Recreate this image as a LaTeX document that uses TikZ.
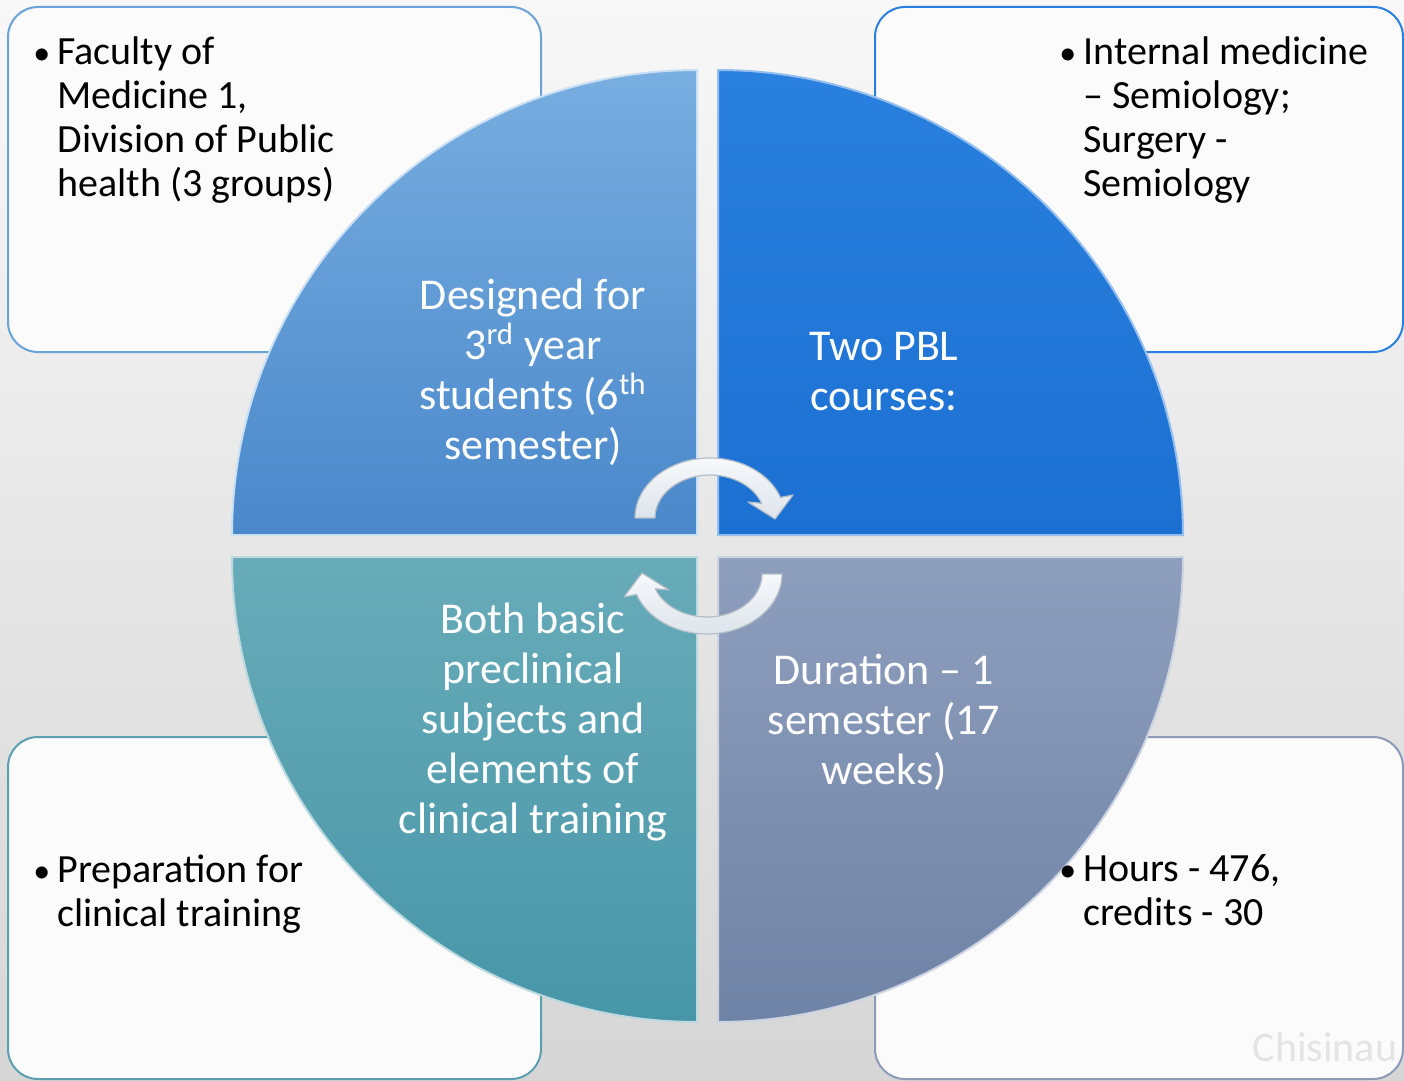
\documentclass[tikz,border=0pt]{standalone}
\usepackage{fontspec}
\setmainfont{Carlito}
\definecolor{bgtop}{HTML}{F8F8F8}
\definecolor{bgbot}{HTML}{D6D6D6}
\definecolor{boxfill}{HTML}{FBFBFC}
\definecolor{tlline}{HTML}{6AA3D8}
\definecolor{trline}{HTML}{2B7FDE}
\definecolor{blline}{HTML}{5C9FAE}
\definecolor{brline}{HTML}{8B9BB8}
\definecolor{tltop}{HTML}{78AEE0}
\definecolor{tlbot}{HTML}{4A88CB}
\definecolor{trtop}{HTML}{2A80DE}
\definecolor{trbot}{HTML}{1B70D2}
\definecolor{bltop}{HTML}{68ABB9}
\definecolor{blbot}{HTML}{4796A8}
\definecolor{brtop}{HTML}{8E9EBD}
\definecolor{brbot}{HTML}{6F83A6}
\definecolor{arrowtop}{HTML}{F7F9FB}
\definecolor{arrowbot}{HTML}{DDE4EB}
\definecolor{arrowline}{HTML}{B3BEC9}
\definecolor{wmark}{HTML}{E4E4E4}
\tikzset{
  infobox/.style={fill=boxfill,line width=1pt,rounded corners=15pt},
  quadtext/.style={text=white,align=center,font=\fontsize{22}{25}\selectfont,inner sep=0pt},
  boxtext/.style={text=black,align=left,font=\fontsize{20}{22}\selectfont,inner sep=0pt,anchor=north west},
  cyclearrow/.style={top color=arrowtop,bottom color=arrowbot,draw=arrowline,line width=0.6pt,line join=round},
}
\newcommand{\bul}{\makebox[0pt][r]{{\fontsize{17}{17}\selectfont\textbullet}\hspace{3.5pt}}}
\begin{document}
\begin{tikzpicture}[x=0.5pt,y=-0.5pt]
\useasboundingbox (0,0) rectangle (1404,1081);
\shade[top color=bgtop,bottom color=bgbot] (0,0) rectangle (1404,1081);

% corner boxes
\draw[infobox,draw=tlline] (8,7) rectangle (541,352);
\draw[infobox,draw=trline] (875,7) rectangle (1403,352);
\draw[infobox,draw=blline] (8,737) rectangle (541,1079);
\draw[infobox,draw=brline] (875,737) rectangle (1403,1079);

% quadrants
\shade[top color=tltop,bottom color=tlbot,draw=tltop!40!white,line width=1pt]
  (697,535) -- (232,535) arc[start angle=180,end angle=270,radius=465] -- cycle;
\shade[top color=trtop,bottom color=trbot,draw=trtop!50!white,line width=1pt]
  (718,535) -- (718,70) arc[start angle=270,end angle=360,radius=465] -- cycle;
\shade[top color=bltop,bottom color=blbot,draw=bltop!45!white,line width=1pt]
  (697,557) -- (697,1022) arc[start angle=90,end angle=180,radius=465] -- cycle;
\shade[top color=brtop,bottom color=brbot,draw=brtop!45!white,line width=1pt]
  (718,557) -- (1183,557) arc[start angle=0,end angle=90,radius=465] -- cycle;

% quadrant texts
\node[quadtext] (q1) at (533,372) {Designed for\\3\textsuperscript{rd} year\\students (6\textsuperscript{th}\\semester)};
\node[quadtext] (q2) at (884,372) {Two PBL\\courses:};
\node[quadtext] (q3) at (533,722) {Both basic\\preclinical\\subjects and\\elements of\\clinical training};
\node[quadtext] (q4) at (884,722) {Duration -- 1\\semester (17\\weeks)};

% cycle arrows
\begin{scope}[shift={(710,518)}]
\path[cyclearrow] (180:75 and 60)
  arc[start angle=180,end angle=340,x radius=75,y radius=60]
  -- (83,-23) -- (65,1) -- (38,-16) -- (340:55 and 43)
  arc[start angle=340,end angle=180,x radius=55,y radius=43] -- cycle;
\end{scope}
\begin{scope}[shift={(707,574)}]
\path[cyclearrow] (0:75 and 60)
  arc[start angle=0,end angle=160,x radius=75,y radius=60]
  -- (-83,23) -- (-65,-1) -- (-38,16) -- (160:55 and 43)
  arc[start angle=160,end angle=0,x radius=55,y radius=43] -- cycle;
\end{scope}

% box texts
\node[boxtext] (b1) at (57,36) {\bul Faculty of\\Medicine 1,\\Division of Public\\health (3 groups)};
\node[boxtext] (b2) at (1083,36) {\bul Internal medicine\\-- Semiology;\\Surgery -\\Semiology};
\node[boxtext] (b3) at (57,854) {\bul Preparation for\\clinical training};
\node[boxtext] (b4) at (1083,854) {\bul Hours - 476,\\credits - 30};

\node[text=wmark,font=\fontsize{21}{25}\selectfont,inner sep=0pt] (wm) at (1325,1047) {Chisinau};
\end{tikzpicture}
\end{document}
